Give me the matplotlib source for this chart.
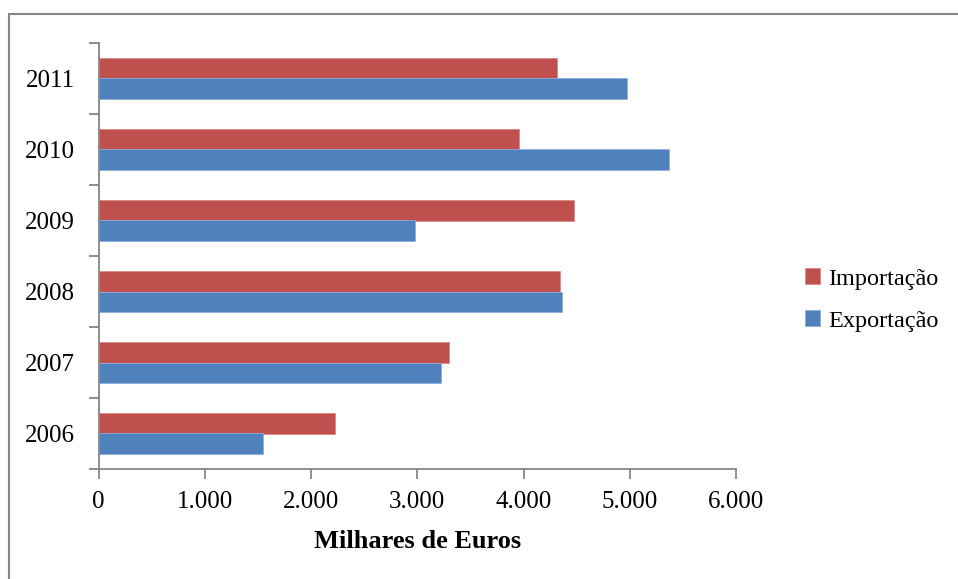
import numpy as np
import matplotlib.pyplot as plt
from matplotlib.patches import Rectangle

anos = ['2006', '2007', '2008', '2009', '2010', '2011']
importacao = [2222, 3296, 4341, 4478, 3960, 4315]
exportacao = [1547, 3223, 4365, 2981, 5367, 4975]
xticks = [0, 1000, 2000, 3000, 4000, 5000, 6000]
xtick_labels = ['0', '1.000', '2.000', '3.000', '4.000', '5.000', '6.000']

red = '#C0504D'
blue = '#4F81BD'
grey = '#868686'

plt.rcParams['font.family'] = ['Liberation Serif', 'DejaVu Serif']

W, H = 958, 579
fig = plt.figure(figsize=(W / 100, H / 100), dpi=100)
ax = fig.add_axes([98.7 / W, 1 - 469 / H, (736 - 98.7) / W, (469 - 43) / H])

y = np.arange(len(anos))
bh = 0.282
ax.barh(y + bh / 2, importacao, height=bh, color=red, label='Importação',
        edgecolor='#D88A88', linewidth=0.6)
ax.barh(y - bh / 2, exportacao, height=bh, color=blue, label='Exportação',
        edgecolor='#8EAEDB', linewidth=0.6)

ax.set_xlim(0, 6000)
ax.set_ylim(-0.5, len(anos) - 0.5)

ax.set_xticks(xticks)
ax.set_xticklabels(xtick_labels, fontsize=18)
ax.set_yticks(y)
ax.set_yticklabels(anos, fontsize=18)
ax.set_yticks(np.arange(len(anos) + 1) - 0.5, minor=True)

ax.tick_params(axis='y', which='major', length=0, pad=17)
ax.tick_params(axis='y', which='minor', length=7, width=1.3, color=grey, direction='out')
ax.tick_params(axis='x', length=7, width=1.3, color=grey, direction='out', pad=9)

for s in ['top', 'right']:
    ax.spines[s].set_visible(False)
for s in ['left', 'bottom']:
    ax.spines[s].set_color(grey)
    ax.spines[s].set_linewidth(1.3)

ax.set_xlabel('Milhares de Euros', fontsize=19, fontweight='bold', labelpad=12)

handles, labels = ax.get_legend_handles_labels()
leg = fig.legend(handles, labels, loc='center left', bbox_to_anchor=(805 / W, 1 - 300 / H),
                 frameon=False, fontsize=17.5, handlelength=0.6, handleheight=0.6,
                 handletextpad=0.35, labelspacing=0.85, borderpad=0, borderaxespad=0)

# outer chart border, running off the right and bottom edges
fig.add_artist(Rectangle((8.5 / W, -0.1), 1.2, 1 - 13.5 / H + 0.1,
                         transform=fig.transFigure, fill=False,
                         edgecolor=grey, linewidth=1.5))

fig.savefig('out.png', dpi=100)
